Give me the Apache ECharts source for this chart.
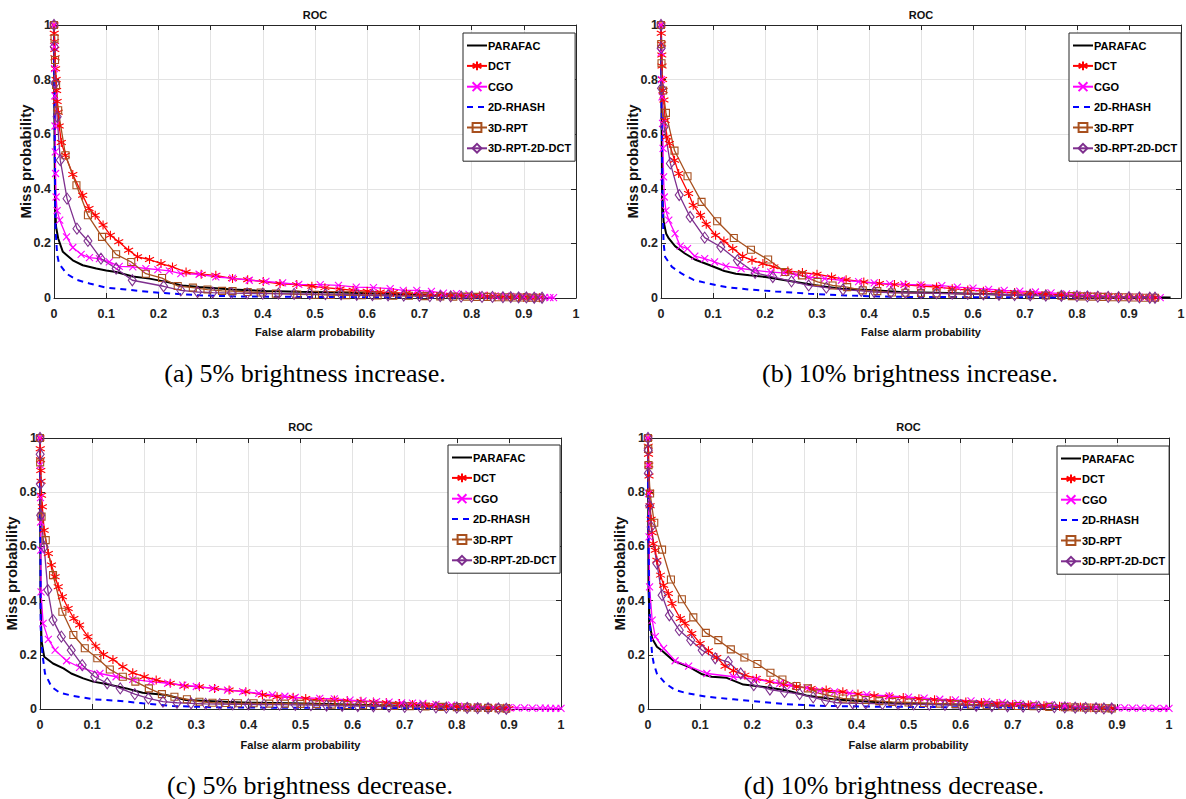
<!DOCTYPE html>
<html><head><meta charset="utf-8">
<script src="https://cdn.jsdelivr.net/npm/echarts/dist/echarts.min.js"></script>
<style>html,body{margin:0;padding:0;background:#fff}#c{width:1186px;height:799px}</style>
</head><body><div id="c"></div>
<script>
// ---------- labels ----------
const SERIES_NAMES = ['PARAFAC','DCT','CGO','2D-RHASH','3D-RPT','3D-RPT-2D-DCT'];
const X_TICK_LABELS = ['0','0.1','0.2','0.3','0.4','0.5','0.6','0.7','0.8','0.9','1'];
const Y_TICK_LABELS = ['0','0.2','0.4','0.6','0.8','1'];
const PLOT_TITLE = 'ROC';
const X_NAME = 'False alarm probability';
const Y_NAME = 'Miss probability';
const CAPTIONS = ['(a) 5% brightness increase.','(b) 10% brightness increase.','(c) 5% brightness decrease.','(d) 10% brightness decrease.'];

// ---------- (a) 5% brightness increase ----------
const A_PARAFAC = [[0,1],[0.001,0.6],[0.002,0.35],[0.004,0.26],[0.008,0.218],[0.017,0.169],[0.036,0.138],[0.055,0.12],[0.081,0.108],[0.1,0.101],[0.119,0.095],[0.151,0.079],[0.183,0.071],[0.215,0.059],[0.246,0.046],[0.278,0.04],[0.342,0.031],[0.406,0.026],[0.469,0.023],[0.55,0.02],[0.65,0.015],[0.75,0.01],[0.85,0.005],[0.93,0.002]];
const A_DCT = [[0,1],[0.0005,0.97],[0.001,0.94],[0.0015,0.91],[0.002,0.88],[0.003,0.84],[0.004,0.8],[0.005,0.76],[0.006,0.72],[0.008,0.68],[0.01,0.63],[0.014,0.57],[0.0217,0.523],[0.036,0.452],[0.055,0.376],[0.067,0.328],[0.079,0.303],[0.094,0.267],[0.108,0.23],[0.124,0.206],[0.143,0.175],[0.16,0.151],[0.183,0.141],[0.205,0.126],[0.227,0.114],[0.253,0.095],[0.282,0.087],[0.31,0.083],[0.342,0.071],[0.371,0.067],[0.401,0.06],[0.433,0.052],[0.465,0.049],[0.494,0.043],[0.519,0.038],[0.548,0.033],[0.573,0.028],[0.6,0.025],[0.625,0.022],[0.65,0.02],[0.675,0.018],[0.7,0.015],[0.72,0.013],[0.74,0.012],[0.76,0.01],[0.78,0.009],[0.8,0.008],[0.815,0.007],[0.83,0.006],[0.845,0.005],[0.86,0.004],[0.875,0.003],[0.89,0.003],[0.9,0.002],[0.91,0.002],[0.92,0.001],[0.93,0.001]];
const A_CGO = [[0,1],[0.0005,0.92],[0.001,0.84],[0.0015,0.74],[0.002,0.63],[0.0025,0.535],[0.003,0.456],[0.004,0.37],[0.006,0.32],[0.011,0.285],[0.024,0.224],[0.036,0.185],[0.052,0.16],[0.068,0.148],[0.087,0.144],[0.106,0.132],[0.125,0.116],[0.151,0.114],[0.176,0.108],[0.199,0.104],[0.221,0.099],[0.243,0.089],[0.278,0.087],[0.31,0.077],[0.342,0.073],[0.374,0.065],[0.406,0.061],[0.438,0.055],[0.469,0.05],[0.51,0.049],[0.545,0.046],[0.579,0.04],[0.612,0.038],[0.644,0.034],[0.669,0.028],[0.695,0.028],[0.723,0.024],[0.746,0.018],[0.771,0.016],[0.795,0.013],[0.822,0.01],[0.845,0.008],[0.865,0.007],[0.886,0.006],[0.9,0.005],[0.918,0.004],[0.93,0.003],[0.94,0.002],[0.95,0.001],[0.957,0.001]];
const A_RHASH = [[0,1],[0.001,0.7],[0.002,0.4],[0.003,0.25],[0.006,0.16],[0.0096,0.126],[0.024,0.089],[0.043,0.067],[0.068,0.053],[0.1,0.038],[0.138,0.031],[0.183,0.022],[0.227,0.016],[0.278,0.01],[0.342,0.006],[0.469,0.004],[0.6,0.003],[0.75,0.002],[0.93,0.001]];
const A_RPT = [[0,1],[0.001,0.95],[0.002,0.872],[0.004,0.78],[0.008,0.688],[0.022,0.523],[0.043,0.413],[0.065,0.303],[0.092,0.224],[0.119,0.16],[0.148,0.132],[0.176,0.089],[0.207,0.073],[0.237,0.044],[0.266,0.038],[0.294,0.031],[0.322,0.026],[0.342,0.025],[0.371,0.022],[0.396,0.02],[0.425,0.016],[0.466,0.013],[0.5,0.012],[0.53,0.011],[0.56,0.01],[0.59,0.01],[0.62,0.009],[0.65,0.008],[0.68,0.008],[0.71,0.007],[0.74,0.006],[0.765,0.005],[0.79,0.005],[0.81,0.004],[0.83,0.004],[0.85,0.003],[0.87,0.003],[0.885,0.002],[0.9,0.002],[0.915,0.001],[0.93,0.001]];
const A_RPTDCT = [[0,1],[0.0005,0.92],[0.002,0.786],[0.006,0.664],[0.012,0.505],[0.025,0.364],[0.044,0.254],[0.065,0.209],[0.09,0.144],[0.119,0.108],[0.15,0.065],[0.21,0.043],[0.243,0.028],[0.275,0.022],[0.304,0.02],[0.34,0.018],[0.37,0.017],[0.4,0.016],[0.43,0.016],[0.46,0.015],[0.49,0.015],[0.52,0.014],[0.55,0.013],[0.58,0.012],[0.61,0.011],[0.64,0.01],[0.67,0.009],[0.7,0.008],[0.72,0.007],[0.74,0.007],[0.76,0.006],[0.78,0.005],[0.8,0.005],[0.82,0.004],[0.84,0.004],[0.86,0.003],[0.875,0.003],[0.89,0.002],[0.905,0.002],[0.92,0.001],[0.935,0.001]];

// ---------- (b) 10% brightness increase ----------
const B_PARAFAC = [[0,1],[0.001,0.7],[0.002,0.4],[0.005,0.28],[0.01,0.235],[0.015,0.218],[0.027,0.19],[0.046,0.163],[0.065,0.141],[0.094,0.12],[0.122,0.099],[0.144,0.089],[0.17,0.083],[0.201,0.077],[0.233,0.067],[0.271,0.055],[0.309,0.043],[0.347,0.034],[0.41,0.028],[0.46,0.022],[0.55,0.018],[0.65,0.013],[0.75,0.009],[0.85,0.005],[0.93,0.003],[0.98,0.002]];
const B_DCT = [[0,1],[0.0005,0.97],[0.001,0.93],[0.0015,0.89],[0.002,0.85],[0.003,0.8],[0.004,0.76],[0.0056,0.725],[0.008,0.65],[0.011,0.59],[0.016,0.566],[0.026,0.505],[0.034,0.456],[0.053,0.383],[0.062,0.34],[0.076,0.303],[0.087,0.27],[0.105,0.23],[0.121,0.209],[0.138,0.181],[0.157,0.153],[0.175,0.138],[0.196,0.126],[0.217,0.114],[0.244,0.099],[0.272,0.093],[0.3,0.087],[0.328,0.077],[0.356,0.067],[0.39,0.059],[0.42,0.053],[0.449,0.049],[0.47,0.048],[0.5,0.044],[0.53,0.04],[0.56,0.034],[0.59,0.029],[0.62,0.025],[0.65,0.022],[0.68,0.02],[0.71,0.017],[0.74,0.015],[0.77,0.012],[0.8,0.01],[0.82,0.009],[0.84,0.008],[0.86,0.006],[0.88,0.005],[0.9,0.004],[0.92,0.003],[0.94,0.002],[0.95,0.001]];
const B_CGO = [[0,1],[0.0005,0.9],[0.001,0.8],[0.002,0.737],[0.003,0.64],[0.004,0.548],[0.005,0.444],[0.0063,0.37],[0.0095,0.32],[0.015,0.285],[0.027,0.236],[0.037,0.19],[0.051,0.181],[0.065,0.153],[0.084,0.144],[0.103,0.132],[0.125,0.117],[0.154,0.108],[0.182,0.101],[0.211,0.095],[0.236,0.092],[0.26,0.085],[0.284,0.077],[0.315,0.071],[0.347,0.065],[0.38,0.06],[0.41,0.055],[0.44,0.052],[0.467,0.05],[0.5,0.048],[0.54,0.045],[0.57,0.04],[0.6,0.036],[0.63,0.032],[0.66,0.028],[0.69,0.025],[0.72,0.022],[0.75,0.019],[0.78,0.015],[0.8,0.012],[0.82,0.01],[0.84,0.008],[0.86,0.007],[0.88,0.005],[0.9,0.004],[0.92,0.003],[0.94,0.002],[0.96,0.001]];
const B_RHASH = [[0,1],[0.001,0.75],[0.003,0.35],[0.005,0.2],[0.008,0.15],[0.021,0.114],[0.04,0.089],[0.062,0.067],[0.087,0.055],[0.125,0.04],[0.17,0.031],[0.22,0.024],[0.284,0.016],[0.347,0.01],[0.41,0.006],[0.47,0.004],[0.6,0.003],[0.75,0.002],[0.95,0.001]];
const B_RPT = [[0,1],[0.0005,0.93],[0.001,0.86],[0.004,0.76],[0.0095,0.678],[0.026,0.54],[0.051,0.446],[0.078,0.352],[0.108,0.281],[0.14,0.22],[0.173,0.177],[0.206,0.141],[0.239,0.095],[0.271,0.083],[0.301,0.059],[0.33,0.046],[0.358,0.04],[0.388,0.028],[0.416,0.025],[0.444,0.02],[0.47,0.019],[0.5,0.018],[0.53,0.017],[0.56,0.016],[0.59,0.015],[0.62,0.014],[0.65,0.012],[0.68,0.011],[0.71,0.01],[0.74,0.009],[0.77,0.008],[0.79,0.007],[0.81,0.006],[0.83,0.005],[0.85,0.004],[0.87,0.003],[0.89,0.003],[0.91,0.002],[0.93,0.001],[0.95,0.001]];
const B_RPTDCT = [[0,1],[0.0003,0.915],[0.001,0.768],[0.006,0.627],[0.018,0.493],[0.035,0.377],[0.056,0.297],[0.084,0.221],[0.115,0.187],[0.147,0.138],[0.181,0.092],[0.215,0.077],[0.251,0.061],[0.284,0.046],[0.318,0.038],[0.35,0.031],[0.385,0.026],[0.41,0.022],[0.442,0.02],[0.47,0.019],[0.5,0.018],[0.53,0.017],[0.56,0.016],[0.59,0.015],[0.62,0.013],[0.65,0.012],[0.68,0.011],[0.71,0.01],[0.74,0.009],[0.77,0.008],[0.8,0.007],[0.82,0.006],[0.84,0.005],[0.86,0.004],[0.88,0.003],[0.9,0.003],[0.92,0.002],[0.94,0.001],[0.95,0.001]];

// ---------- (c) 5% brightness decrease ----------
const C_PARAFAC = [[0,1],[0.0005,0.7],[0.001,0.4],[0.003,0.25],[0.008,0.193],[0.025,0.168],[0.045,0.15],[0.06,0.131],[0.083,0.113],[0.102,0.101],[0.127,0.092],[0.166,0.076],[0.197,0.06],[0.242,0.052],[0.28,0.033],[0.331,0.029],[0.401,0.023],[0.484,0.021],[0.55,0.018],[0.65,0.014],[0.75,0.01],[0.85,0.006],[0.9,0.004]];
const C_DCT = [[0,1],[0.0005,0.96],[0.001,0.92],[0.0015,0.88],[0.002,0.84],[0.003,0.789],[0.0045,0.746],[0.008,0.66],[0.016,0.574],[0.022,0.531],[0.029,0.488],[0.035,0.451],[0.043,0.414],[0.054,0.371],[0.065,0.334],[0.076,0.31],[0.092,0.267],[0.107,0.232],[0.122,0.201],[0.14,0.183],[0.159,0.156],[0.178,0.134],[0.2,0.119],[0.223,0.107],[0.25,0.095],[0.277,0.085],[0.306,0.082],[0.335,0.076],[0.363,0.07],[0.395,0.064],[0.427,0.052],[0.455,0.045],[0.486,0.043],[0.51,0.039],[0.537,0.033],[0.565,0.033],[0.59,0.03],[0.616,0.029],[0.64,0.026],[0.665,0.023],[0.69,0.02],[0.715,0.017],[0.74,0.014],[0.76,0.012],[0.78,0.01],[0.8,0.009],[0.82,0.007],[0.84,0.006],[0.86,0.005],[0.875,0.004],[0.89,0.003],[0.9,0.002]];
const C_CGO = [[0,1],[0.0005,0.9],[0.001,0.78],[0.0013,0.69],[0.0015,0.586],[0.002,0.432],[0.006,0.316],[0.016,0.257],[0.029,0.217],[0.051,0.178],[0.076,0.154],[0.115,0.131],[0.146,0.119],[0.178,0.109],[0.213,0.101],[0.245,0.095],[0.274,0.088],[0.3,0.083],[0.331,0.076],[0.36,0.07],[0.389,0.064],[0.42,0.058],[0.446,0.052],[0.47,0.047],[0.49,0.043],[0.537,0.039],[0.565,0.037],[0.595,0.033],[0.62,0.03],[0.646,0.027],[0.67,0.025],[0.694,0.023],[0.715,0.022],[0.735,0.021],[0.76,0.017],[0.79,0.014],[0.815,0.011],[0.84,0.009],[0.87,0.006],[0.9,0.005],[0.915,0.004],[0.93,0.004],[0.945,0.003],[0.96,0.003],[0.97,0.003],[0.98,0.002],[0.99,0.002],[1,0.002]];
const C_RHASH = [[0,1],[0.0005,0.7],[0.001,0.45],[0.0013,0.3],[0.0045,0.205],[0.0096,0.131],[0.022,0.082],[0.038,0.06],[0.064,0.048],[0.102,0.036],[0.146,0.031],[0.197,0.021],[0.255,0.011],[0.338,0.006],[0.433,0.005],[0.6,0.004],[0.75,0.003],[0.9,0.002]];
const C_RPT = [[0,1],[0.0003,0.91],[0.003,0.71],[0.011,0.623],[0.025,0.494],[0.043,0.359],[0.064,0.273],[0.086,0.224],[0.11,0.187],[0.134,0.146],[0.159,0.119],[0.183,0.101],[0.209,0.076],[0.234,0.055],[0.258,0.045],[0.282,0.036],[0.306,0.027],[0.331,0.023],[0.355,0.022],[0.38,0.021],[0.41,0.021],[0.44,0.02],[0.47,0.02],[0.5,0.019],[0.53,0.018],[0.56,0.016],[0.59,0.015],[0.62,0.014],[0.65,0.012],[0.68,0.011],[0.71,0.01],[0.74,0.009],[0.77,0.008],[0.8,0.007],[0.82,0.006],[0.84,0.005],[0.86,0.004],[0.88,0.003],[0.895,0.002]];
const C_RPTDCT = [[0,1],[0.0003,0.94],[0.0006,0.83],[0.0013,0.715],[0.008,0.598],[0.015,0.439],[0.025,0.328],[0.041,0.267],[0.06,0.217],[0.081,0.162],[0.105,0.119],[0.129,0.095],[0.154,0.076],[0.182,0.055],[0.208,0.039],[0.236,0.027],[0.263,0.023],[0.29,0.021],[0.318,0.019],[0.345,0.018],[0.37,0.017],[0.4,0.017],[0.43,0.016],[0.46,0.016],[0.49,0.015],[0.52,0.014],[0.55,0.013],[0.58,0.012],[0.61,0.011],[0.64,0.01],[0.67,0.009],[0.7,0.008],[0.73,0.007],[0.76,0.006],[0.78,0.005],[0.8,0.005],[0.82,0.004],[0.84,0.003],[0.86,0.003],[0.88,0.002],[0.895,0.001]];

// ---------- (d) 10% brightness decrease ----------
const D_PARAFAC = [[0,1],[0.0005,0.7],[0.001,0.45],[0.003,0.32],[0.008,0.26],[0.017,0.23],[0.027,0.215],[0.049,0.178],[0.078,0.156],[0.104,0.128],[0.122,0.119],[0.151,0.115],[0.183,0.09],[0.208,0.085],[0.234,0.078],[0.266,0.068],[0.304,0.05],[0.355,0.036],[0.418,0.028],[0.469,0.022],[0.55,0.018],[0.65,0.014],[0.75,0.01],[0.85,0.006],[0.9,0.004]];
const D_DCT = [[0,1],[0.0005,0.97],[0.001,0.94],[0.0015,0.9],[0.002,0.86],[0.003,0.8],[0.004,0.75],[0.006,0.7],[0.008,0.65],[0.01,0.61],[0.014,0.586],[0.017,0.549],[0.024,0.494],[0.03,0.457],[0.039,0.426],[0.046,0.389],[0.062,0.334],[0.071,0.316],[0.084,0.279],[0.1,0.242],[0.116,0.215],[0.132,0.19],[0.148,0.158],[0.164,0.141],[0.186,0.125],[0.208,0.113],[0.234,0.101],[0.26,0.09],[0.285,0.082],[0.313,0.076],[0.342,0.07],[0.374,0.064],[0.403,0.055],[0.434,0.049],[0.463,0.045],[0.49,0.042],[0.52,0.038],[0.55,0.034],[0.58,0.03],[0.61,0.026],[0.64,0.023],[0.67,0.02],[0.7,0.017],[0.73,0.015],[0.76,0.012],[0.79,0.01],[0.81,0.008],[0.83,0.007],[0.85,0.005],[0.87,0.004],[0.89,0.003]];
const D_CGO = [[0,1],[0.0005,0.9],[0.001,0.795],[0.002,0.635],[0.003,0.451],[0.008,0.328],[0.014,0.267],[0.03,0.224],[0.052,0.178],[0.078,0.158],[0.113,0.131],[0.164,0.119],[0.208,0.109],[0.253,0.095],[0.275,0.087],[0.305,0.078],[0.329,0.068],[0.358,0.063],[0.387,0.058],[0.42,0.053],[0.463,0.048],[0.5,0.044],[0.53,0.04],[0.56,0.036],[0.59,0.034],[0.62,0.03],[0.65,0.027],[0.68,0.024],[0.71,0.021],[0.74,0.018],[0.77,0.015],[0.8,0.012],[0.83,0.009],[0.86,0.007],[0.885,0.005],[0.9,0.004],[0.915,0.004],[0.93,0.003],[0.945,0.003],[0.96,0.003],[0.975,0.002],[0.99,0.002],[1,0.002]];
const D_RHASH = [[0,1],[0.0005,0.7],[0.002,0.45],[0.004,0.3],[0.008,0.2],[0.011,0.168],[0.017,0.131],[0.033,0.095],[0.052,0.07],[0.075,0.058],[0.113,0.045],[0.164,0.036],[0.215,0.027],[0.266,0.018],[0.323,0.012],[0.418,0.009],[0.55,0.007],[0.7,0.005],[0.85,0.003],[0.9,0.002]];
const D_RPT = [[0,1],[0.0005,0.96],[0.001,0.9],[0.004,0.795],[0.012,0.687],[0.027,0.588],[0.044,0.478],[0.065,0.405],[0.087,0.338],[0.111,0.281],[0.135,0.254],[0.159,0.22],[0.185,0.19],[0.21,0.166],[0.235,0.134],[0.258,0.109],[0.285,0.085],[0.307,0.076],[0.329,0.058],[0.352,0.048],[0.374,0.039],[0.396,0.036],[0.418,0.033],[0.444,0.029],[0.469,0.026],[0.5,0.024],[0.53,0.022],[0.56,0.02],[0.59,0.018],[0.62,0.016],[0.65,0.014],[0.68,0.012],[0.71,0.011],[0.74,0.01],[0.77,0.008],[0.8,0.007],[0.82,0.006],[0.84,0.005],[0.86,0.004],[0.88,0.003],[0.89,0.002]];
const D_RPTDCT = [[0,1],[0.0003,0.955],[0.0006,0.87],[0.003,0.75],[0.006,0.672],[0.017,0.537],[0.027,0.42],[0.041,0.346],[0.06,0.291],[0.082,0.254],[0.104,0.217],[0.129,0.187],[0.154,0.174],[0.178,0.131],[0.203,0.088],[0.234,0.072],[0.262,0.063],[0.291,0.055],[0.317,0.043],[0.341,0.031],[0.364,0.023],[0.393,0.021],[0.418,0.021],[0.45,0.019],[0.48,0.018],[0.51,0.017],[0.54,0.016],[0.57,0.015],[0.6,0.014],[0.63,0.012],[0.66,0.011],[0.69,0.01],[0.72,0.009],[0.75,0.008],[0.78,0.007],[0.8,0.006],[0.82,0.005],[0.84,0.004],[0.86,0.003],[0.875,0.002],[0.89,0.002]];

// ---------- assembly ----------
const PLOTS = [
  [A_PARAFAC, A_DCT, A_CGO, A_RHASH, A_RPT, A_RPTDCT],
  [B_PARAFAC, B_DCT, B_CGO, B_RHASH, B_RPT, B_RPTDCT],
  [C_PARAFAC, C_DCT, C_CGO, C_RHASH, C_RPT, C_RPTDCT],
  [D_PARAFAC, D_DCT, D_CGO, D_RHASH, D_RPT, D_RPTDCT]
];

const SANS = "'Liberation Sans',Arial,sans-serif";
const SERIF = "'Liberation Serif','DejaVu Serif',serif";
const AXC = '#262626';

const GRIDS = [
  {left:54, top:25, width:522, height:273},
  {left:661, top:25, width:520, height:273},
  {left:40, top:438, width:521, height:271},
  {left:648, top:438, width:521, height:271}
];
const XNAME_GAP = [28, 28, 30, 30];
const LEGEND_POS = [[463,33],[1069,33],[448,445],[1057,446]];
const CAPTION_POS = [[305,373],[910,373],[310,785],[894,785]];

const STYLES = [
  {color:'#000000', width:2, type:'solid', symbol:'none', size:0},
  {color:'#ff0000', width:1.3, type:'solid', symbol:'path://M0,-5L0,5M-4.33,-2.5L4.33,2.5M-4.33,2.5L4.33,-2.5', size:9},
  {color:'#ff00ff', width:1.3, type:'solid', symbol:'path://M-4,-4L4,4M-4,4L4,-4', size:7},
  {color:'#0000ff', width:2, type:[6,5], symbol:'none', size:0},
  {color:'#a8501e', width:1.3, type:'solid', symbol:'rect', size:7},
  {color:'#7e2f8e', width:1.3, type:'solid', symbol:'diamond', size:[8,11]}
];

const xAxes = [], yAxes = [], series = [], legends = [], graphics = [];
GRIDS.forEach((g, i) => {
  const base = {gridIndex:i, type:'value', min:0, max:1, interval:0.1};
  xAxes.push(Object.assign({}, base, {
    position:'bottom',
    axisLine:{show:true, onZero:false, lineStyle:{color:AXC, width:1}},
    axisTick:{show:true, inside:true, length:5, lineStyle:{color:AXC}},
    axisLabel:{margin:9, color:'#222', fontWeight:'bold', fontSize:12.5, fontFamily:SANS,
      formatter:v => X_TICK_LABELS[Math.round(v*10)]},
    splitLine:{show:true, lineStyle:{color:'#e3e3e3', width:1}},
    name:X_NAME, nameLocation:'middle', nameGap:XNAME_GAP[i], nameMoveOverlap:false,
    nameTextStyle:{fontWeight:'bold', fontSize:11, fontFamily:SANS, color:'#111'}
  }));
  xAxes.push(Object.assign({}, base, {
    position:'top',
    axisLine:{show:true, onZero:false, lineStyle:{color:AXC, width:1}},
    axisTick:{show:true, inside:true, length:5, lineStyle:{color:AXC}},
    axisLabel:{show:false}, splitLine:{show:false}
  }));
  const ybase = {gridIndex:i, type:'value', min:0, max:1, interval:0.2};
  yAxes.push(Object.assign({}, ybase, {
    position:'left',
    axisLine:{show:true, onZero:false, lineStyle:{color:AXC, width:1}},
    axisTick:{show:true, inside:true, length:5, lineStyle:{color:AXC}},
    axisLabel:{margin:3, color:'#222', fontWeight:'bold', fontSize:12.5, fontFamily:SANS,
      formatter:v => Y_TICK_LABELS[Math.round(v*5)]},
    splitLine:{show:true, lineStyle:{color:'#e3e3e3', width:1}},
    name:Y_NAME, nameLocation:'middle', nameGap:21, nameRotate:90, nameMoveOverlap:false,
    nameTextStyle:{fontWeight:'bold', fontSize:15, fontFamily:SANS, color:'#111'}
  }));
  yAxes.push(Object.assign({}, ybase, {
    position:'right',
    axisLine:{show:true, onZero:false, lineStyle:{color:AXC, width:1}},
    axisTick:{show:true, inside:true, length:5, lineStyle:{color:AXC}},
    axisLabel:{show:false}, splitLine:{show:false}
  }));
  PLOTS[i].forEach((data, k) => {
    const s = STYLES[k];
    const noMark = s.symbol === 'none';
    series.push({
      type:'line', name:SERIES_NAMES[k], xAxisIndex:2*i, yAxisIndex:2*i,
      data:data, clip:false, animation:false,
      showSymbol:!noMark, showAllSymbol:true,
      symbol:s.symbol, symbolSize:s.size,
      lineStyle:{color:s.color, width:s.width, type:s.type},
      itemStyle:{color:'none', borderColor:noMark ? 'none' : s.color, borderWidth:noMark ? 0 : 1.1},
      emphasis:{disabled:true}
    });
  });
  legends.push({
    left:LEGEND_POS[i][0], top:LEGEND_POS[i][1], orient:'vertical',
    data:SERIES_NAMES, selectedMode:false,
    backgroundColor:'#fff', borderColor:AXC, borderWidth:1, borderRadius:0,
    padding:[6,4,6,3], itemGap:7, itemWidth:20, itemHeight:11,
    textStyle:{fontFamily:SANS, fontWeight:'bold', fontSize:11, lineHeight:13, color:'#000', padding:[0,0,0,-4]}
  });
  graphics.push({type:'text', x:g.left + g.width/2, y:(i < 2 ? 15 : 427),
    style:{text:PLOT_TITLE, font:"bold 11px " + SANS, fill:'#111', align:'center', verticalAlign:'middle'}});
  graphics.push({type:'text', x:CAPTION_POS[i][0], y:CAPTION_POS[i][1],
    style:{text:CAPTIONS[i], font:"26px " + SERIF, fill:'#000', align:'center', verticalAlign:'middle'}});
});

const chart = echarts.init(document.getElementById('c'), null, {renderer:'svg'});
chart.setOption({
  backgroundColor:'#fff',
  animation:false,
  grid:GRIDS.map(g => Object.assign({containLabel:false, outerBoundsMode:'none'}, g)),
  xAxis:xAxes, yAxis:yAxes, series:series, legend:legends, graphic:graphics
});
</script></body></html>
